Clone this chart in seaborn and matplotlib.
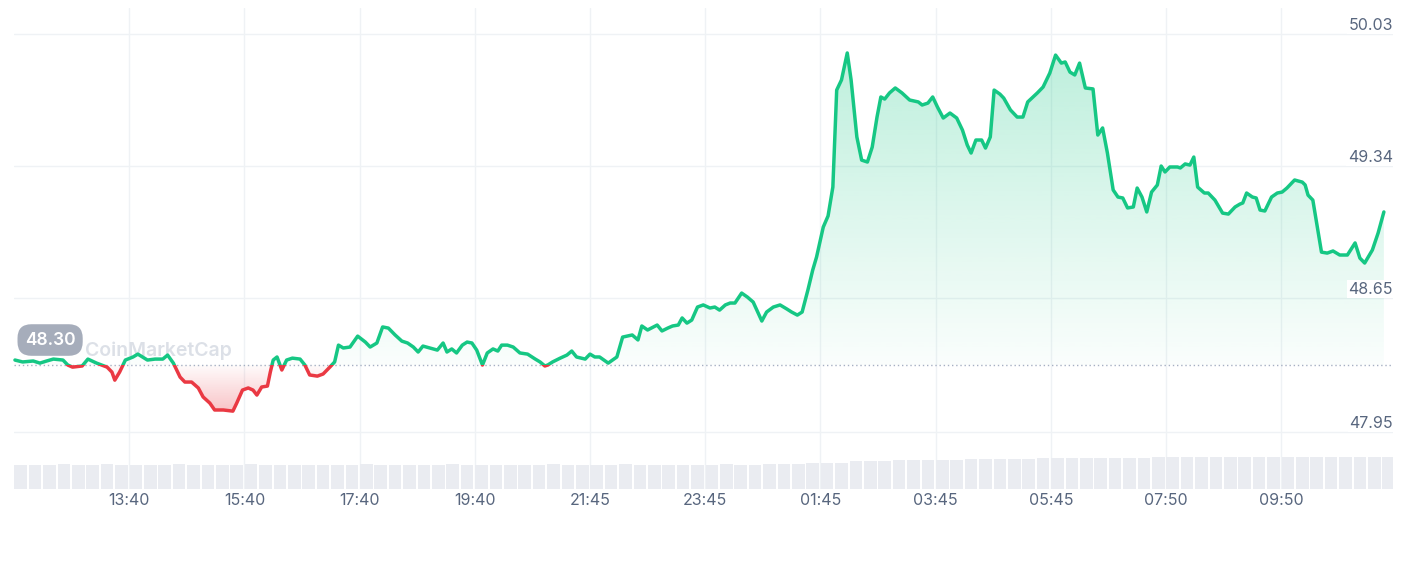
import numpy as np
import matplotlib
matplotlib.use('Agg')
import matplotlib.pyplot as plt
from matplotlib.colors import to_rgb
from matplotlib.patches import Rectangle
import seaborn as sns

# price readings: minutes after 11:40, price in USD
minutes = [
    1, 9, 20, 27, 34, 41, 51, 56, 61, 71,
    77, 86, 97, 102, 105, 110, 116, 124, 129, 139,
    147, 155, 160, 166, 173, 178, 185, 192, 197, 204,
    209, 218, 228, 232, 238, 244, 249, 253, 258, 264,
    267, 270, 274, 279, 284, 290, 298, 303, 308, 316,
    322, 329, 334, 338, 343, 350, 358, 366, 371, 378,
    384, 390, 397, 404, 410, 416, 421, 426, 433, 441,
    447, 451, 456, 461, 467, 472, 477, 482, 488, 493,
    499, 504, 508, 514, 520, 527, 535, 543, 548, 553,
    556, 561, 569, 576, 581, 586, 595, 600, 605, 610,
    619, 628, 634, 644, 650, 654, 660, 670, 675, 681,
    686, 692, 696, 701, 706, 712, 718, 725, 730, 735,
    741, 746, 751, 758, 764, 770, 779, 784, 791, 798,
    805, 810, 816, 821, 827, 832, 836, 843, 848, 853,
    857, 862, 868, 872, 878, 883, 889, 894, 899, 903,
    907, 912, 918, 925, 933, 942, 946, 952, 957, 962,
    968, 975, 982, 988, 993, 997, 1002, 1008, 1012, 1017,
    1021, 1027, 1031, 1038, 1045, 1051, 1056, 1066, 1072, 1079,
    1085, 1091, 1095, 1100, 1105, 1110, 1116, 1124, 1129, 1134,
    1139, 1145, 1150, 1155, 1160, 1166, 1170, 1175, 1180, 1185,
    1191, 1195, 1199, 1204, 1212, 1215, 1220, 1225, 1229, 1233,
    1240, 1244, 1251, 1259, 1265, 1272, 1277, 1280, 1284, 1290,
    1294, 1298, 1303, 1310, 1316, 1321, 1326, 1334, 1342, 1345,
    1348, 1353, 1362, 1368, 1374, 1381, 1389, 1397, 1402, 1407,
    1415, 1421, 1427,
]
prices = [
    48.326, 48.316, 48.321, 48.310, 48.321, 48.331, 48.326, 48.300, 48.289, 48.295,
    48.331, 48.310, 48.289, 48.263, 48.221, 48.263, 48.326, 48.342, 48.357, 48.326,
    48.331, 48.331, 48.352, 48.310, 48.237, 48.211, 48.211, 48.180, 48.133, 48.101,
    48.065, 48.065, 48.059, 48.101, 48.169, 48.180, 48.169, 48.143, 48.185, 48.190,
    48.263, 48.326, 48.342, 48.274, 48.326, 48.336, 48.331, 48.300, 48.248, 48.242,
    48.253, 48.289, 48.316, 48.404, 48.389, 48.394, 48.451, 48.420, 48.394, 48.415,
    48.499, 48.493, 48.457, 48.425, 48.415, 48.394, 48.368, 48.399, 48.389, 48.378,
    48.415, 48.368, 48.384, 48.363, 48.404, 48.420, 48.415, 48.378, 48.300, 48.363,
    48.384, 48.373, 48.404, 48.404, 48.394, 48.363, 48.357, 48.331, 48.316, 48.295,
    48.300, 48.316, 48.336, 48.352, 48.373, 48.342, 48.331, 48.357, 48.342, 48.342,
    48.310, 48.342, 48.446, 48.457, 48.431, 48.504, 48.483, 48.509, 48.478, 48.493,
    48.504, 48.509, 48.546, 48.519, 48.535, 48.603, 48.614, 48.598, 48.603, 48.587,
    48.614, 48.624, 48.624, 48.676, 48.655, 48.629, 48.530, 48.577, 48.603, 48.614,
    48.593, 48.577, 48.561, 48.577, 48.692, 48.796, 48.864, 49.021, 49.079, 49.230,
    49.737, 49.790, 49.931, 49.790, 49.492, 49.371, 49.361, 49.439, 49.596, 49.701,
    49.690, 49.722, 49.748, 49.722, 49.685, 49.675, 49.659, 49.669, 49.701, 49.648,
    49.591, 49.617, 49.591, 49.528, 49.450, 49.408, 49.476, 49.476, 49.434, 49.492,
    49.737, 49.716, 49.695, 49.633, 49.596, 49.596, 49.675, 49.722, 49.753, 49.826,
    49.920, 49.878, 49.884, 49.831, 49.816, 49.878, 49.748, 49.743, 49.502, 49.539,
    49.408, 49.215, 49.178, 49.173, 49.121, 49.126, 49.225, 49.178, 49.100, 49.204,
    49.241, 49.340, 49.309, 49.335, 49.335, 49.330, 49.351, 49.345, 49.387, 49.230,
    49.199, 49.199, 49.162, 49.094, 49.089, 49.126, 49.141, 49.147, 49.199, 49.178,
    49.173, 49.110, 49.105, 49.178, 49.199, 49.204, 49.225, 49.267, 49.256, 49.241,
    49.188, 49.162, 48.890, 48.885, 48.896, 48.875, 48.875, 48.938, 48.859, 48.833,
    48.901, 48.990, 49.100,
]
open_price = 48.30

# 15-minute volume bins (relative units)
volume = [
    24.3, 24.5, 24.4, 24.6, 24.5, 24.4, 24.6, 24.5, 24.3, 24.4,
    24.5, 24.6, 24.4, 24.5, 24.3, 24.4, 24.6, 24.5, 24.4, 24.5,
    24.3, 24.4, 24.5, 24.4, 24.6, 24.5, 24.4, 24.3, 24.5, 24.4,
    24.6, 24.5, 24.4, 24.5, 24.3, 24.4, 24.5, 24.6, 24.4, 24.5,
    24.3, 24.4, 24.6, 24.5, 24.4, 24.5, 24.3, 24.4, 24.5, 24.6,
    24.4, 24.5, 24.7, 24.9, 25.2, 25.6,
    26.0, 26.5, 28.0, 28.3, 28.5, 28.7, 28.9, 29.0,
    29.3, 29.5, 29.7, 29.9, 30.1, 30.3, 30.4, 30.6, 30.8, 30.9, 31.0, 31.2,
    31.3, 31.4, 31.5, 31.6, 31.7, 31.8, 31.9, 32.0, 32.0, 32.1,
    32.2, 32.2, 32.3, 32.3, 32.4, 32.4, 32.5, 32.5, 32.6, 32.6,
]

price_ticks = [47.95, 48.65, 49.34, 50.03]
time_ticks = [120, 240, 360, 480, 600, 720, 840, 960, 1080, 1200, 1320]
time_labels = ['13:40', '15:40', '17:40', '19:40', '21:45', '23:45',
               '01:45', '03:45', '05:45', '07:50', '09:50']

GREEN = '#16c784'
RED = '#ea3943'
TEXT = '#58667e'
GRID = '#eff2f5'

sns.set_theme(style='white')
plt.rcParams['font.family'] = ['Inter', 'DejaVu Sans']

fig = plt.figure(figsize=(14.07, 5.87), dpi=100)
ax = fig.add_axes([14 / 1407, 1 - 489 / 587, 1379 / 1407, 481 / 587])
xlim = (0, 1436.5)
ylim = (47.652, 50.166)

# volume strip at the bottom
ax2 = ax.twinx()
vx = [15 * i + 7 for i in range(len(volume))]
ax2.bar(vx, volume, width=13, color='#eaecf1', linewidth=0)
ax2.set_ylim(0, max(volume) * 14.8)
ax2.set_yticks([])
for s in ax2.spines.values():
    s.set_visible(False)

# gradient fill between price and open price
poly = ax.fill_between(minutes, prices, open_price, color='none', lw=0)
yy = np.linspace(ylim[0], ylim[1], 800)
rgba = np.zeros((len(yy), 1, 4))
up = yy >= open_price
rgba[up, 0, :3] = to_rgb(GREEN)
rgba[up, 0, 3] = 0.02 + 0.26 * np.clip((yy[up] - open_price) / (max(prices) - open_price), 0, 1)
rgba[~up, 0, :3] = to_rgb(RED)
rgba[~up, 0, 3] = 0.02 + 0.28 * np.clip((open_price - yy[~up]) / (open_price - min(prices)), 0, 1)
im = ax.imshow(rgba, extent=[xlim[0], xlim[1], ylim[0], ylim[1]], origin='lower',
               aspect='auto', interpolation='bilinear', zorder=1)
im.set_clip_path(poly.get_paths()[0], transform=ax.transData)

ax.axhline(open_price, color='#a6b0c3', lw=1, ls=(0, (1, 2)), zorder=2)

# price line, green above open and red below
sns.lineplot(x=minutes, y=prices, ax=ax, color=GREEN, lw=2.5, zorder=3)
ln_up = ax.lines[-1]
sns.lineplot(x=minutes, y=prices, ax=ax, color=RED, lw=2.5, zorder=3)
ln_dn = ax.lines[-1]
ln_up.set_clip_path(Rectangle((-100, open_price), 2000, 10, transform=ax.transData))
ln_dn.set_clip_path(Rectangle((-100, open_price - 10), 2000, 10, transform=ax.transData))
for ln in (ln_up, ln_dn):
    ln.set_solid_joinstyle('round')

ax.set_xlim(*xlim)
ax.set_ylim(*ylim)
ax.set_xticks(time_ticks, time_labels)
ax.set_yticks(price_ticks, [''] * len(price_ticks))
ax.grid(True, color=GRID, lw=1)
ax.set_axisbelow(True)
ax.tick_params(axis='x', length=0, pad=3, labelsize=11.5, labelcolor=TEXT)
ax.tick_params(axis='y', length=0, left=False, labelleft=False)
ax.set_xlabel('')
ax.set_ylabel('')
for s in ax.spines.values():
    s.set_visible(False)

for v in price_ticks:
    ax.annotate(f'{v:.2f}', xy=(1, v), xycoords=('axes fraction', 'data'),
                xytext=(0, 1), textcoords='offset points', ha='right', va='bottom',
                color=TEXT, fontsize=11.5,
                bbox=dict(boxstyle='square,pad=0.1', fc='white', ec='none'))

ax.annotate('CoinMarketCap', xy=(0, open_price), xycoords=('axes fraction', 'data'),
            xytext=(51, 10), textcoords='offset points', ha='left', va='center',
            color='#dce0e7', fontsize=14, fontweight='semibold', zorder=1.5)

ax.annotate(f'{open_price:.2f}', xy=(0, open_price), xycoords=('axes fraction', 'data'),
            xytext=(26, 18), textcoords='offset points', ha='center', va='center',
            color='white', fontsize=12.5, fontweight='semibold', zorder=4,
            bbox=dict(boxstyle='round,pad=0.42,rounding_size=0.8', fc='#a6adbb', ec='none'))

fig.savefig('out.png', dpi=100, facecolor='white')
